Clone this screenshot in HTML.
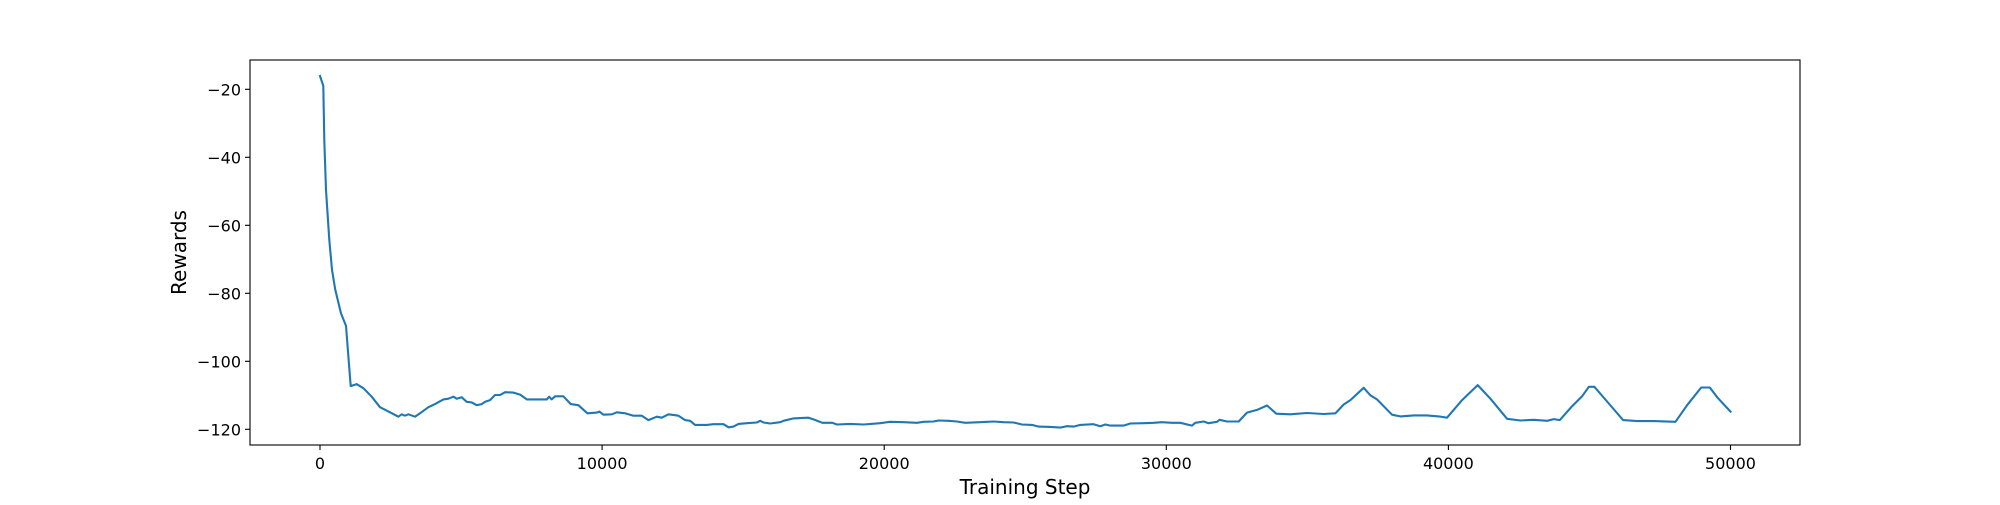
<!DOCTYPE html>
<html><head><meta charset="utf-8"><style>
html,body{margin:0;padding:0;background:#fff;}
svg text{font-family:"DejaVu Sans","Liberation Sans",sans-serif;fill:#000;}
</style></head><body>
<svg id="chart" width="2000" height="500" viewBox="0 0 2000 500" xmlns="http://www.w3.org/2000/svg">
<rect width="2000" height="500" fill="#fff"/>
<g id="plot"></g>
</svg>
<script>
const steps = [0,117,153,213,330,426,543,745,922,1088,1300,1537,1833,2128,2482,2778,2896,3014,3132,3369,3546,3841,4078,4374,4551,4728,4846,5023,5201,5378,5556,5733,5851,6028,6206,6383,6560,6856,7092,7329,7565,8038,8120,8215,8333,8629,8890,9161,9480,9811,9905,10047,10343,10520,10816,11111,11407,11643,11939,12116,12353,12707,12943,13121,13298,13712,13948,14303,14480,14657,14835,15130,15485,15603,15721,15957,16312,16430,16785,17021,17317,17494,17809,18164,18322,18794,19267,19858,20213,20686,21158,21395,21749,21927,22281,22577,22872,23404,23877,24232,24586,24882,25236,25473,25887,26241,26478,26714,26950,27423,27660,27837,28014,28487,28723,29196,29551,29846,30201,30496,30910,31028,31324,31501,31797,31891,32151,32565,32861,33215,33570,33901,34397,34988,35579,35993,36288,36525,36998,37234,37470,38002,38298,38770,39243,39657,39952,40484,41040,41489,42080,42553,43026,43499,43735,43948,44385,44740,44976,45177,45686,46194,46690,47281,48050,48463,48960,49267,49527,50000];
const rewards = [-16.1,-19,-34.9,-49.6,-64.3,-73.1,-79,-85.9,-89.6,-107.3,-106.7,-107.9,-110.4,-113.5,-115,-116.3,-115.6,-116,-115.6,-116.3,-115.3,-113.5,-112.6,-111.2,-111,-110.4,-111,-110.6,-111.9,-112.1,-112.9,-112.6,-111.9,-111.4,-109.9,-109.9,-109.1,-109.2,-109.8,-111.2,-111.2,-111.2,-110.4,-111.2,-110.3,-110.3,-112.6,-112.9,-115.3,-115.1,-114.8,-115.7,-115.6,-115,-115.3,-116,-116,-117.3,-116.3,-116.6,-115.6,-116,-117.3,-117.5,-118.7,-118.7,-118.5,-118.5,-119.4,-119.2,-118.4,-118.2,-118,-117.5,-118,-118.3,-117.9,-117.5,-116.8,-116.7,-116.6,-117.1,-118.1,-118.1,-118.6,-118.4,-118.6,-118.2,-117.8,-117.9,-118.1,-117.8,-117.7,-117.4,-117.5,-117.7,-118.1,-117.9,-117.7,-117.9,-118,-118.6,-118.7,-119.2,-119.3,-119.5,-119.1,-119.2,-118.7,-118.5,-119.1,-118.6,-118.9,-118.9,-118.3,-118.2,-118.1,-117.9,-118.1,-118.1,-118.9,-118.1,-117.7,-118.2,-117.8,-117.2,-117.7,-117.7,-115.1,-114.3,-113,-115.4,-115.6,-115.2,-115.5,-115.3,-112.7,-111.4,-107.8,-110,-111.2,-115.7,-116.2,-115.9,-115.9,-116.2,-116.6,-111.4,-107,-111,-116.9,-117.4,-117.2,-117.5,-117,-117.3,-113.2,-110.3,-107.5,-107.5,-112.4,-117.3,-117.6,-117.6,-117.8,-112.9,-107.7,-107.7,-110.6,-114.8];
const xTicks = [0,10000,20000,30000,40000,50000];
const yTicks = [-20,-40,-60,-80,-100,-120];

const L=250,R=1800,T=60,B=445;
const x = v => 320 + v*0.02821;
const y = v => 89.3 + (-20 - v)*3.4;
const NS='http://www.w3.org/2000/svg';
const g=document.getElementById('plot');
function mk(tag,attrs){const e=document.createElementNS(NS,tag);for(const k in attrs)e.setAttribute(k,attrs[k]);g.appendChild(e);return e;}

const pts=steps.map((s,i)=>x(s).toFixed(1)+','+y(rewards[i]).toFixed(1)).join(' ');
const line=mk('polyline',{points:pts,fill:'none',stroke:'#1f77b4','stroke-width':2.1,'stroke-linejoin':'round','stroke-linecap':'square'});



const frame=mk('rect',{x:L,y:T,width:R-L,height:B-T,fill:'none',stroke:'#000','stroke-width':1.1});



xTicks.forEach(t=>{
  const tk=mk('line',{x1:x(t),x2:x(t),y1:B,y2:B+5,stroke:'#000','stroke-width':1.1});
  
  
  const lb=mk('text',{x:x(t),y:B+24,'text-anchor':'middle','font-size':16});
  lb.textContent=String(t);
  
  
});
yTicks.forEach(t=>{
  const tk=mk('line',{x1:L-5,x2:L,y1:y(t),y2:y(t),stroke:'#000','stroke-width':1.1});
  
  
  const lb=mk('text',{x:L-9,y:y(t)+6,'text-anchor':'end','font-size':16});
  lb.textContent='\u2212'+Math.abs(t);
  
  
});
const xl=mk('text',{x:(L+R)/2,y:494,'text-anchor':'middle','font-size':20});
xl.textContent='Training Step';


const yl=mk('text',{x:0,y:0,'text-anchor':'middle','font-size':20,transform:'translate(186,'+((T+B)/2)+') rotate(-90)'});
yl.textContent='Rewards';


</script>
</body></html>
